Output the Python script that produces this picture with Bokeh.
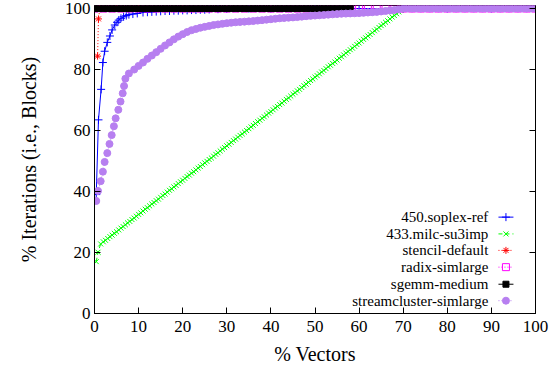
from bokeh.plotting import figure
from bokeh.models import LinearAxis, FixedTicker, Range1d, CustomJSTickFormatter
from bokeh.core.properties import value
from bokeh.embed import file_html
from bokeh.resources import INLINE

# ---------------- data ----------------
x_ticks = [0, 10, 20, 30, 40, 50, 60, 70, 80, 90, 100]
y_ticks = [0, 20, 40, 60, 80, 100]

series_names = ["450.soplex-ref", "433.milc-su3imp", "stencil-default",
                "radix-simlarge", "sgemm-medium", "streamcluster-simlarge"]

soplex_x = [0.4, 0.9, 1.5, 1.9, 2.3, 2.9, 3.5, 4.0, 4.6, 5.1, 5.5, 6.0, 6.6, 7.2, 7.8,
            8.7, 9.7, 11, 12, 13, 14, 15, 16, 17, 18, 19, 20, 21, 22, 23, 24, 25, 26,
            28, 30, 35, 40, 50, 60, 70, 80, 90, 100]
soplex_y = [39.0, 63.5, 73.5, 82.3, 86.0, 88.9, 91.0, 93.0, 94.6, 95.5, 96.2, 96.8, 97.3,
            97.7, 98.0, 98.2, 98.4, 98.7, 98.8, 98.9, 99.0, 99.1, 99.2, 99.2, 99.3, 99.3,
            99.4, 99.4, 99.5, 99.5, 99.6, 99.6, 99.7, 99.8, 99.9, 100, 100, 100, 100, 100,
            100, 100, 100]

milc_x = [0.4, 0.8, 1.4,
          2, 2.5, 3, 3.5, 4, 4.5, 5, 5.5, 6, 6.5, 7, 7.5, 8, 8.5, 9, 9.5, 10, 10.5,
          11, 11.5, 12, 12.5, 13, 13.5, 14, 14.5, 15, 15.5, 16, 16.5, 17, 17.5, 18, 18.5,
          19, 19.5, 20, 20.5, 21, 21.5, 22, 22.5, 23, 23.5, 24, 24.5, 25, 25.5, 26, 26.5,
          27, 27.5, 28, 28.5, 29, 29.5, 30, 30.5, 31, 31.5, 32, 32.5, 33, 33.5, 34, 34.5,
          35, 35.5, 36, 36.5, 37, 37.5, 38, 38.5, 39, 39.5, 40, 40.5, 41, 41.5, 42, 42.5,
          43, 43.5, 44, 44.5, 45, 45.5, 46, 46.5, 47, 47.5, 48, 48.5, 49, 49.5, 50, 50.5,
          51, 51.5, 52, 52.5, 53, 53.5, 54, 54.5, 55, 55.5, 56, 56.5, 57, 57.5, 58, 58.5,
          59, 59.5, 60, 60.5, 61, 61.5, 62, 62.5, 63, 63.5, 64, 64.5, 65, 65.5, 66, 66.5,
          67, 67.5, 68, 68.5, 69, 69.5, 70, 75, 80, 85, 90, 95, 100]
milc_y = [17.0, 20.1, 22.8,
          23.5, 24.0, 24.6, 25.2, 25.7, 26.3, 26.8, 27.4, 28.0, 28.5, 29.1, 29.7, 30.2,
          30.8, 31.3, 31.9, 32.5, 33.0, 33.6, 34.2, 34.7, 35.3, 35.9, 36.4, 37.0, 37.5,
          38.1, 38.7, 39.2, 39.8, 40.4, 40.9, 41.5, 42.0, 42.6, 43.2, 43.7, 44.3, 44.9,
          45.4, 46.0, 46.5, 47.1, 47.7, 48.2, 48.8, 49.4, 49.9, 50.5, 51.0, 51.6, 52.2,
          52.7, 53.3, 53.9, 54.4, 55.0, 55.5, 56.1, 56.7, 57.2, 57.8, 58.4, 58.9, 59.5,
          60.0, 60.6, 61.2, 61.7, 62.3, 62.9, 63.4, 64.0, 64.5, 65.1, 65.7, 66.2, 66.8,
          67.4, 67.9, 68.5, 69.0, 69.6, 70.2, 70.7, 71.3, 71.9, 72.4, 73.0, 73.5, 74.1,
          74.7, 75.2, 75.8, 76.4, 76.9, 77.5, 78.0, 78.6, 79.2, 79.7, 80.3, 80.9, 81.4,
          82.0, 82.5, 83.1, 83.7, 84.2, 84.8, 85.4, 85.9, 86.5, 87.0, 87.6, 88.2, 88.7,
          89.3, 89.9, 90.4, 91.0, 91.5, 92.1, 92.7, 93.2, 93.8, 94.4, 94.9, 95.5, 96.0,
          96.6, 97.2, 97.7, 98.3, 98.9, 99.4, 100.0, 100, 100, 100, 100, 100, 100]

stencil_x = [0.7, 0.9, 1.2, 5, 10, 20, 30, 40]
stencil_y = [84.4, 96.6, 100, 100, 100, 100, 100, 100]

radix_x = [0, 2, 4, 6, 8, 10, 12, 14, 16, 18, 20, 22, 24, 26, 28, 30, 32, 34, 36, 38, 40,
           42, 44, 46, 48, 50, 52, 54, 56, 58, 60, 62, 64, 66, 68, 70, 72, 74, 76, 78, 80,
           82, 84, 86, 88, 90, 92, 94, 96, 98, 100]
radix_y = [100, 100, 100, 100, 100, 100, 100, 100, 100, 100, 100, 100, 100, 100, 100, 100,
           100, 100, 100, 100, 100, 100, 100, 100, 100, 100, 100, 100, 100, 100, 100, 100,
           100, 100, 100, 100, 100, 100, 100, 100, 100, 100, 100, 100, 100, 100, 100, 100,
           100, 100, 100]

sgemm_x = [0, 1, 2, 3, 4, 5, 6, 7, 8, 9, 10, 11, 12, 13, 14, 15, 16, 17, 18, 19, 20, 21,
           22, 23, 24, 25, 26, 27, 28, 29, 30, 31, 32, 33, 34, 35, 36, 37, 38, 39, 40, 41,
           42, 43, 44, 45, 46, 47, 48, 49, 50, 51, 52, 53, 54, 55, 56, 57, 58]
sgemm_y = [100, 100, 100, 100, 100, 100, 100, 100, 100, 100, 100, 100, 100, 100, 100, 100,
           100, 100, 100, 100, 100, 100, 100, 100, 100, 100, 100, 100, 100, 100, 100, 100,
           100, 100, 100, 100, 100, 100, 100, 100, 100, 100, 100, 100, 100, 100, 100, 100,
           100, 100, 100, 100, 100, 100, 100, 100, 100, 100, 100]

stream_x = [0.4, 0.8, 1.4, 1.9, 2.3, 2.9, 3.4, 3.9, 4.4, 4.8, 5.4, 5.9, 6.4, 6.7, 7.0, 7.8,
            9, 10, 11, 12, 13, 14, 15, 16, 17, 18, 19, 20, 21, 22, 23, 24, 25, 26, 27, 28,
            29, 30, 31, 32, 33, 34, 35, 36, 37, 38, 39, 40, 41, 42, 43, 44, 45, 46, 47, 48,
            49, 50, 51, 52, 53, 54, 55, 56, 57, 58, 59, 60, 61, 62, 63, 64, 65, 66, 67, 68,
            69, 70, 71, 72, 73, 74, 75, 76, 77, 78, 79, 80, 81, 82, 83, 84, 85, 86, 87, 88,
            89, 90, 91, 92, 93, 94, 95, 96, 97, 98, 99, 100]
stream_y = [36.9, 40.2, 43.4, 46.5, 49.7, 52.6, 55.6, 58.5, 61.4, 64.0, 66.8, 69.5, 72.2,
            74.6, 77.0, 78.7,
            80.0, 81.2, 82.3, 83.5, 84.6, 85.7, 86.8, 87.9, 88.9, 89.9, 90.8, 91.6, 92.3,
            92.9, 93.3, 93.7, 94.0, 94.3, 94.6, 94.8, 95.0, 95.2, 95.35, 95.5, 95.6, 95.7,
            95.8, 95.9, 96.05, 96.2, 96.35, 96.5, 96.65, 96.8, 96.9, 97.0, 97.1, 97.2,
            97.35, 97.5, 97.6, 97.7, 97.8, 97.9, 98.0, 98.1, 98.2, 98.3, 98.35, 98.4,
            98.45, 98.5, 98.6, 98.7, 98.8, 98.9, 99.05, 99.2, 99.35, 99.5, 99.75, 100,
            100, 100, 100, 100, 100, 100, 100, 100, 100, 100, 100, 100, 100, 100, 100, 100,
            100, 100, 100, 100, 100, 100, 100, 100, 100, 100, 100, 100, 100, 100]

# ---------------- styles ----------------
SERIF = "Liberation Serif"
styles = [
    # color, dash, marker, marker size, fill
    ("#0000ff", "solid", "cross", 8, None),
    ("#00ff00", "4 3", "x", 7, None),
    ("#ff0000", "1 2", "asterisk", 7, None),
    ("#ff00ff", "1 2", "square", 7, None),
    ("#000000", "solid", "square", 6, "#000000"),
    ("#b77ff0", "1 2", "circle", 7, "#b77ff0"),
]
series = [(soplex_x, soplex_y), (milc_x, milc_y), (stencil_x, stencil_y),
          (radix_x, radix_y), (sgemm_x, sgemm_y), (stream_x, stream_y)]

p = figure(width=560, height=372, x_range=Range1d(0, 100), y_range=Range1d(0, 101),
           output_backend="svg", toolbar_location=None,
           min_border_left=94, min_border_right=25, min_border_top=5, min_border_bottom=59)
p.grid.visible = False
p.outline_line_color = "black"
p.outline_line_width = 1
p.background_fill_color = "white"
p.border_fill_color = "white"

for ax, ticks in ((p.xaxis[0], x_ticks), (p.yaxis[0], y_ticks)):
    ax.ticker = FixedTicker(ticks=ticks)
    ax.major_tick_in = 6
    ax.major_tick_out = 0
    ax.minor_tick_line_color = None
    ax.axis_line_color = "black"
    ax.major_tick_line_color = "black"
    ax.major_label_text_font = SERIF
    ax.major_label_text_font_size = "17px"
    ax.major_label_text_color = "black"
    ax.axis_label_text_font = SERIF
    ax.axis_label_text_font_size = "20px"
    ax.axis_label_text_font_style = "normal"
    ax.axis_label_text_color = "black"

p.xaxis.axis_label = "% Vectors"
p.yaxis.axis_label = "% Iterations (i.e., Blocks)"
p.xaxis.major_label_standoff = 7
p.xaxis.axis_label_standoff = 8
p.yaxis.major_label_standoff = 4
p.yaxis.axis_label_standoff = 22

rax = LinearAxis(ticker=FixedTicker(ticks=y_ticks), major_tick_in=6, major_tick_out=0,
                 minor_tick_line_color=None,
                 formatter=CustomJSTickFormatter(code="return ''"),
                 axis_line_color="black", major_label_standoff=0)
p.add_layout(rax, "right")

for (xs, ys), (col, dash, mk, sz, fill) in zip(series, styles):
    p.line(xs, ys, line_color=col, line_dash=dash, line_width=1)
    p.scatter(xs, ys, marker=mk, size=sz, line_color=col, fill_color=fill, line_width=1)

# ---------------- legend (text right-aligned, sample on the right) ----------------
LEG_TEXT_X = 89.3
LEG_X0, LEG_X1, LEG_XM = 91.6, 95.0, 93.3
leg_rows = [31.6, 26.1, 20.7, 15.2, 9.6, 4.2]
p.text(x=[LEG_TEXT_X] * len(series_names), y=leg_rows, text=series_names,
       text_align="right", text_baseline="middle", text_font=value(SERIF),
       text_font_size="15px", text_color="black")
for row, (col, dash, mk, sz, fill) in zip(leg_rows, styles):
    p.line([LEG_X0, LEG_X1], [row, row], line_color=col, line_dash=dash, line_width=1)
    p.scatter([LEG_XM], [row], marker=mk, size=sz, line_color=col, fill_color=fill,
              line_width=1)

open("out.html", "w").write(file_html(p, INLINE))
